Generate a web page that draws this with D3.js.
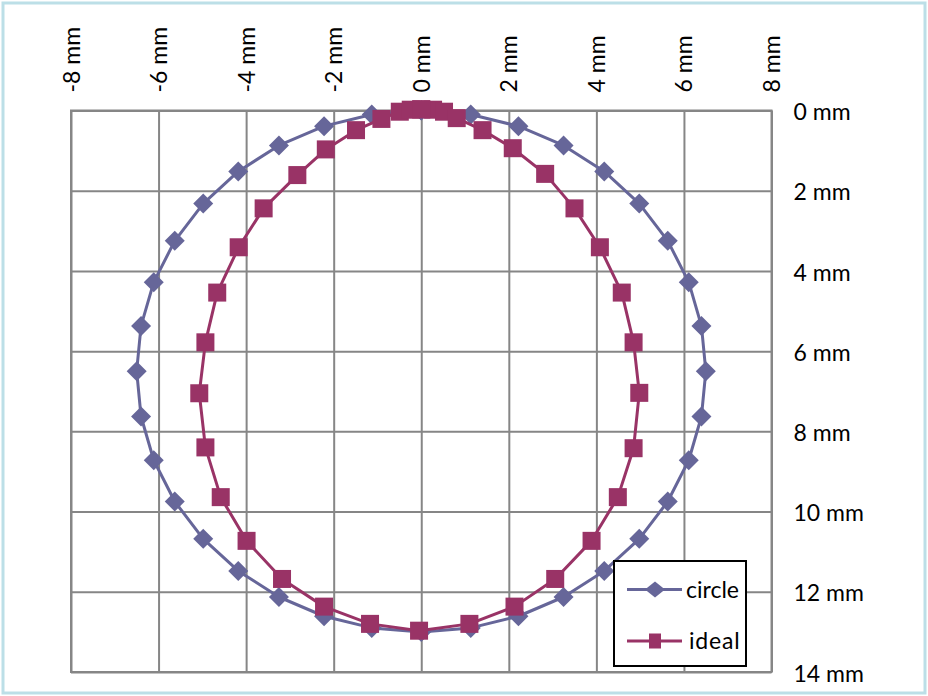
<!DOCTYPE html>
<html>
<head>
<meta charset="utf-8">
<script src="https://cdn.jsdelivr.net/npm/d3@7"></script>
<style>
  html, body { margin: 0; padding: 0; background: #ffffff; }
  svg { display: block; }
  text { font-family: Lato, "Liberation Sans", sans-serif; fill: #000; }
</style>
</head>
<body>
<svg id="chart" width="928" height="696"></svg>
<script>
// ---- data ----
const seriesNames = ["circle", "ideal"];

const circleX = [0, 1.13, 2.22, 3.25, 4.18, 4.98, 5.63, 6.11, 6.40, 6.50, 6.40, 6.11, 5.63, 4.98, 4.18, 3.25, 2.22, 1.13, 0,
  -1.13, -2.22, -3.25, -4.18, -4.98, -5.63, -6.11, -6.40, -6.50, -6.40, -6.11, -5.63, -4.98, -4.18, -3.25, -2.22, -1.13, 0];
const circleY = [0, 0.10, 0.39, 0.87, 1.52, 2.32, 3.25, 4.28, 5.37, 6.50, 7.63, 8.72, 9.75, 10.68, 11.48, 12.13, 12.61, 12.90, 13.00,
  12.90, 12.61, 12.13, 11.48, 10.68, 9.75, 8.72, 7.63, 6.50, 5.37, 4.28, 3.25, 2.32, 1.52, 0.87, 0.39, 0.10, 0];

const idealX = [0, 0.27, 0.52, 0.81, 1.40, 2.09, 2.83, 3.50, 4.08, 4.58, 4.85, 4.98, 4.85, 4.49, 3.89, 3.06, 2.13, 1.10, -0.05,
  -1.17, -2.22, -3.18, -3.99, -4.58, -4.93, -5.07, -4.93, -4.66, -4.17, -3.60, -2.83, -2.18, -1.49, -0.91, -0.49, -0.24, 0];
const idealY = [-0.03, -0.02, 0.03, 0.19, 0.49, 0.94, 1.58, 2.44, 3.41, 4.54, 5.78, 7.04, 8.42, 9.64, 10.73, 11.68, 12.37, 12.80, 12.97,
  12.80, 12.37, 11.68, 10.73, 9.64, 8.40, 7.05, 5.78, 4.54, 3.41, 2.44, 1.61, 0.97, 0.49, 0.21, 0.03, -0.02, -0.03];

const xTicks = [-8, -6, -4, -2, 0, 2, 4, 6, 8];
const xTickLabels = ["-8 mm", "-6 mm", "-4 mm", "-2 mm", "0 mm", "2 mm", "4 mm", "6 mm", "8 mm"];
const yTicks = [0, 2, 4, 6, 8, 10, 12, 14];
const yTickLabels = ["0 mm", "2 mm", "4 mm", "6 mm", "8 mm", "10 mm", "12 mm", "14 mm"];

// ---- layout ----
const W = 928, H = 696;
const plot = { left: 71, right: 771.5, top: 110.5, bottom: 672 };
const colors = { circle: "#666699", ideal: "#993366" };
const gridColor = "#868686";

const svg = d3.select("#chart");

// outer frame
svg.append("rect").attr("x", 0).attr("y", 0).attr("width", W).attr("height", H).attr("fill", "#ffffff");
svg.append("rect")
  .attr("x", 3).attr("y", 3).attr("width", W - 6).attr("height", H - 6)
  .attr("fill", "none").attr("stroke", "#bcdfe7").attr("stroke-width", 3);

const x = d3.scaleLinear().domain([-8, 8]).range([plot.left, plot.right]);
const y = d3.scaleLinear().domain([0, 14]).range([plot.top, plot.bottom]);

// gridlines
svg.append("g")
  .attr("transform", `translate(0,${plot.top})`)
  .call(d3.axisTop(x).tickValues(xTicks).tickSize(-(plot.bottom - plot.top)).tickFormat(""))
  .call(g => g.select(".domain").remove())
  .call(g => g.selectAll("line").attr("stroke", gridColor).attr("stroke-width", 2));

svg.append("g")
  .attr("transform", `translate(${plot.left},0)`)
  .call(d3.axisLeft(y).tickValues(yTicks).tickSize(-(plot.right - plot.left)).tickFormat(""))
  .call(g => g.select(".domain").remove())
  .call(g => g.selectAll("line").attr("stroke", gridColor).attr("stroke-width", 2));

// plot border
svg.append("rect")
  .attr("x", plot.left).attr("y", plot.top)
  .attr("width", plot.right - plot.left).attr("height", plot.bottom - plot.top)
  .attr("fill", "none").attr("stroke", gridColor).attr("stroke-width", 2);

// x labels (top, rotated)
const xLab = svg.append("g")
  .attr("transform", `translate(0,${plot.top})`)
  .call(d3.axisTop(x).tickValues(xTicks).tickSize(0).tickPadding(0)
        .tickFormat((d, i) => xTickLabels[i]));
xLab.select(".domain").remove();
xLab.selectAll("text")
  .attr("x", 0).attr("y", 0).attr("dy", null)
  .attr("text-anchor", "start")
  .attr("dominant-baseline", "central")
  .attr("transform", "translate(-1,-18) rotate(-90)")
  .style("font-family", "Lato, 'Liberation Sans', sans-serif")
  .style("font-size", "23px")
  .attr("fill", "#000");

// y labels (right)
const yLab = svg.append("g")
  .attr("transform", `translate(${plot.right},0)`)
  .call(d3.axisRight(y).tickValues(yTicks).tickSize(0).tickPadding(22)
        .tickFormat((d, i) => yTickLabels[i]));
yLab.select(".domain").remove();
yLab.selectAll("text")
  .attr("dy", "0.4em")
  .style("font-family", "Lato, 'Liberation Sans', sans-serif")
  .style("font-size", "23px")
  .attr("fill", "#000");

// series
const circleData = circleX.map((v, i) => [v, circleY[i]]);
const idealData = idealX.map((v, i) => [v, idealY[i]]);
const line = d3.line().x(d => x(d[0])).y(d => y(d[1]));

const diamond = (r) => `M0,${-r}L${r},0L0,${r}L${-r},0Z`;

// circle series
const gC = svg.append("g");
gC.append("path").datum(circleData).attr("d", line)
  .attr("fill", "none").attr("stroke", colors.circle).attr("stroke-width", 3).attr("stroke-linejoin", "round");
gC.selectAll("path.m").data(circleData).join("path").attr("class", "m")
  .attr("transform", d => `translate(${x(d[0])},${y(d[1])})`)
  .attr("d", diamond(10))
  .attr("fill", colors.circle);

// ideal series
const gI = svg.append("g");
gI.append("path").datum(idealData).attr("d", line)
  .attr("fill", "none").attr("stroke", colors.ideal).attr("stroke-width", 3).attr("stroke-linejoin", "round");
gI.selectAll("rect.m").data(idealData).join("rect").attr("class", "m")
  .attr("x", d => x(d[0]) - 9).attr("y", d => y(d[1]) - 9)
  .attr("width", 18).attr("height", 18)
  .attr("fill", colors.ideal);

// legend
const lg = svg.append("g").attr("transform", "translate(614,561)");
lg.append("rect").attr("width", 132).attr("height", 105)
  .attr("fill", "#ffffff").attr("stroke", "#000").attr("stroke-width", 2);
const items = lg.selectAll("g.item").data(seriesNames).join("g").attr("class", "item")
  .attr("transform", (d, i) => `translate(0,${i === 0 ? 28.5 : 80})`);
items.append("line").attr("x1", 13).attr("x2", 68).attr("y1", 0).attr("y2", 0)
  .attr("stroke", d => colors[d]).attr("stroke-width", 3);
items.filter(d => d === "circle").append("path")
  .attr("transform", "translate(41,0)")
  .attr("d", "M0,-8L10,0L0,8L-10,0Z").attr("fill", colors.circle);
items.filter(d => d === "ideal").append("rect")
  .attr("x", 35).attr("y", -7.5).attr("width", 12).attr("height", 15).attr("fill", colors.ideal);
items.append("text")
  .attr("x", (d, i) => i === 0 ? 72 : 75).attr("y", 0).attr("dy", "0.36em")
  .style("font-size", "23px")
  .style("letter-spacing", (d, i) => i === 0 ? "0px" : "0.8px")
  .text(d => d);
</script>
</body>
</html>
